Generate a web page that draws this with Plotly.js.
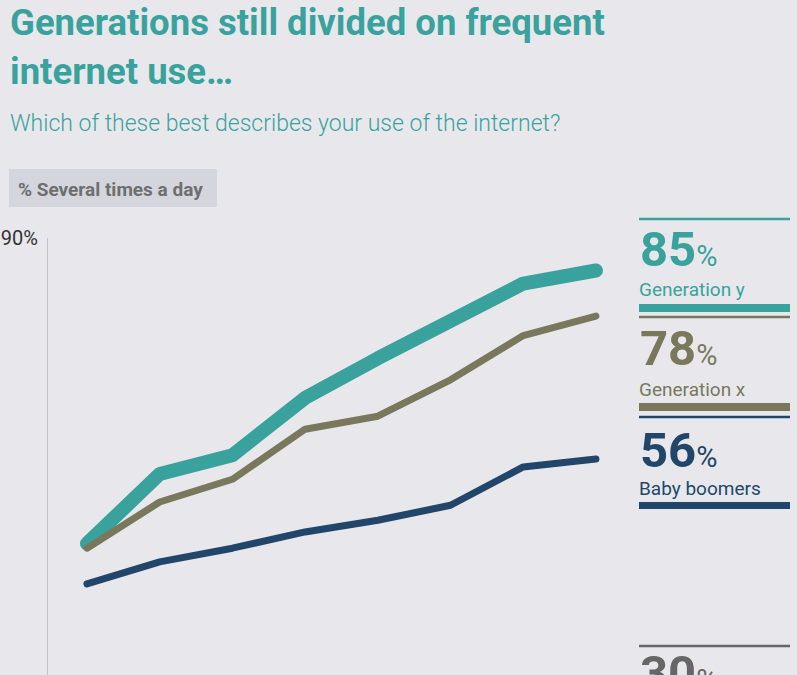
<!DOCTYPE html>
<html>
<head>
<meta charset="utf-8">
<script src="https://cdn.plot.ly/plotly-3.0.1.min.js"></script>
<style>
html,body{margin:0;padding:0;background:#e8e8ec;}
#chart{width:797px;height:675px;}
.scatterlayer .js-line{stroke-linecap:round !important;stroke-linejoin:round !important;}
</style>
</head>
<body>
<div id="chart"></div>
<script>
// ---- data ----
const waves = [1, 2, 3, 4, 5, 6, 7, 8];
const genY = [43.0, 53.7, 56.6, 65.4, 71.5, 77.4, 83.0, 85.0];
const genX = [42.3, 49.4, 52.9, 60.6, 62.6, 68.2, 75.0, 78.0];
const boomers = [36.8, 40.2, 42.3, 44.8, 46.6, 48.9, 54.8, 56.0];
const seriesNames = ['Generation y', 'Generation x', 'Baby boomers', ''];
const latestValues = [85, 78, 56, 30];
const yTickVals = [90];
const yTickText = ['90%'];

const titleText = 'Generations still divided on frequent';
const titleText2 = 'internet use…';
const subtitleText = 'Which of these best describes your use of the internet?';
const badgeText = '% Several times a day';

// ---- style ----
const TEAL = '#3aa29c', OLIVE = '#79785d', NAVY = '#22466a', GREY = '#666666';
const FONT = '"Liberation Sans Narrow", "Arial Narrow", "Roboto", "Liberation Sans", sans-serif';
const W = 797, H = 675, ML = 48, MT = 238;
const PW = W - ML, PH = H - MT;
const px = x => (x - ML) / PW;
const py = y => (H - y) / PH;

const traces = [
  {x: waves, y: genY, name: seriesNames[0], mode: 'lines', line: {color: TEAL, width: 14}},
  {x: waves, y: genX, name: seriesNames[1], mode: 'lines', line: {color: OLIVE, width: 7}},
  {x: waves, y: boomers, name: seriesNames[2], mode: 'lines', line: {color: NAVY, width: 7}}
];

const colors = [TEAL, OLIVE, NAVY, GREY];
const thinY = [219, 317, 417, 646];
const barY = [[304, 312], [403, 411], [502, 509], null];
const numMid = [249, 348, 450, 673];
const lblMid = [289, 389, 488, null];

const shapes = [
  {type: 'rect', xref: 'paper', yref: 'paper', x0: px(9), x1: px(217), y0: py(169), y1: py(207),
   fillcolor: '#d4d5dd', line: {width: 0}, layer: 'below'}
];
function ann(text, x, y, font) {
  return {text: text, xref: 'paper', yref: 'paper', x: px(x), y: py(y), xanchor: 'left', yanchor: 'middle',
    showarrow: false, font: font};
}
const annotations = [
  ann(titleText, 8, 23, {family: FONT, size: 36.5, color: TEAL, weight: 'bold'}),
  ann(titleText2, 8, 72, {family: FONT, size: 36.5, color: TEAL, weight: 'bold'}),
  ann(subtitleText, 8, 124, {family: FONT, size: 23, color: TEAL, weight: 300}),
  ann(badgeText, 16, 189, {family: FONT, size: 19, color: '#6e6e70', weight: 'bold'})
];

for (let i = 0; i < 4; i++) {
  shapes.push({type: 'line', xref: 'paper', yref: 'paper', x0: px(639), x1: px(790),
    y0: py(thinY[i]), y1: py(thinY[i]), line: {color: colors[i], width: 2.5}});
  if (barY[i]) {
    shapes.push({type: 'rect', xref: 'paper', yref: 'paper', x0: px(639), x1: px(790),
      y0: py(barY[i][1]), y1: py(barY[i][0]), fillcolor: colors[i], line: {width: 0}});
  }
  annotations.push(ann('<b>' + latestValues[i] + '</b><span style="font-size:29px">%</span>',
    638, numMid[i], {family: FONT, size: 49, color: colors[i]}));
  if (lblMid[i]) {
    annotations.push(ann(seriesNames[i], 637, lblMid[i], {family: FONT, size: 19, color: colors[i]}));
  }
}

const layout = {
  width: W, height: H,
  paper_bgcolor: '#e8e8ec', plot_bgcolor: '#e8e8ec',
  margin: {l: ML, r: 0, t: MT, b: 0, pad: 0},
  showlegend: false,
  xaxis: {range: [0.464, 10.765], visible: false, fixedrange: true},
  yaxis: {range: [22.8, 90], showline: true, linecolor: '#c3c3cb', linewidth: 1.2,
    showgrid: false, zeroline: false, ticks: '', tickvals: yTickVals, ticktext: yTickText,
    tickfont: {family: 'Roboto, "Liberation Sans", sans-serif', size: 20, color: '#333333'},
    ticklabelstandoff: 5, fixedrange: true},
  shapes: shapes,
  annotations: annotations,
  font: {family: FONT}
};

Plotly.newPlot('chart', traces, layout, {displayModeBar: false, staticPlot: true});
</script>
</body>
</html>
